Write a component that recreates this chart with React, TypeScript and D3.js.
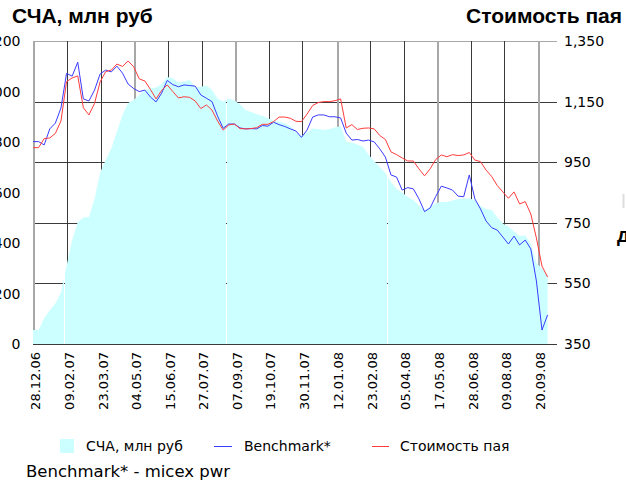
import React from "react";
import * as d3 from "d3";

const W = 626;
const H = 485;
// plot box: left edge = first labelled date, "right" = last labelled date
const BOX = { left: 33, right: 538, top: 41, bottom: 344, tickEnd: 557 };

const parseDate = d3.utcParse("%d.%m.%y");

const START = "28.12.06";
const tickLabels = [
  "28.12.06", "09.02.07", "23.03.07", "04.05.07", "15.06.07", "27.07.07",
  "07.09.07", "19.10.07", "30.11.07", "12.01.08", "23.02.08", "05.04.08",
  "17.05.08", "28.06.08", "09.08.08", "20.09.08",
];
// thin white seams inside the filled area
const areaSeams = ["05.02.07", "26.08.07", "15.03.08"];

// weekly values from 28.12.06
const scha = [
  55, 55, 102, 134, 160, 204, 309, 412, 483, 501,
  503, 574, 679, 729, 774, 842, 907, 954, 966, 986,
  1006, 1013, 1016, 1030, 1057, 1052, 1036, 1040, 1046, 1016,
  1019, 1024, 1006, 972, 960, 973, 964, 950, 927, 919,
  910, 904, 894, 885, 880, 874, 863, 840, 824, 838,
  853, 851, 848, 851, 857, 863, 801, 798, 790, 781,
  750, 725, 701, 677, 642, 614, 600, 582, 570, 549,
  531, 543, 557, 562, 562, 568, 574, 576, 576, 570,
  547, 535, 531, 501, 477, 465, 446, 428, 430, 396,
  321, 299, 273,
];
const benchmark = [
  1018, 1018, 1007, 1060, 1079, 1129, 1243, 1234, 1280, 1159,
  1152, 1188, 1241, 1254, 1248, 1267, 1244, 1208, 1193, 1183,
  1188, 1165, 1149, 1178, 1220, 1206, 1199, 1205, 1203, 1201,
  1172, 1161, 1150, 1102, 1062, 1076, 1076, 1063, 1060, 1061,
  1060, 1071, 1069, 1082, 1074, 1068, 1060, 1053, 1032, 1056,
  1099, 1106, 1106, 1100, 1100, 1096, 1046, 1023, 1025, 1020,
  1023, 1017, 994, 967, 908, 901, 858, 866, 862, 829,
  787, 799, 837, 871, 865, 858, 838, 836, 908, 829,
  796, 756, 734, 726, 703, 680, 706, 677, 693, 664,
  558, 396, 446,
];
const unitPrice = [
  998, 998, 1028, 1030, 1045, 1086, 1216, 1228, 1235, 1130,
  1106, 1144, 1215, 1249, 1254, 1274, 1266, 1284, 1265, 1225,
  1218, 1190, 1159, 1187, 1205, 1183, 1162, 1166, 1164, 1152,
  1127, 1139, 1122, 1086, 1056, 1073, 1076, 1061, 1060, 1061,
  1064, 1075, 1075, 1084, 1099, 1099, 1095, 1085, 1084, 1109,
  1137, 1147, 1150, 1150, 1153, 1159, 1063, 1074, 1058, 1062,
  1063, 1060, 1038, 1025, 984, 975, 964, 954, 954, 928,
  905, 928, 959, 974, 968, 975, 972, 974, 982, 957,
  952, 924, 903, 873, 852, 831, 852, 812, 820, 779,
  700, 607, 571,
];

const leftTicks = [0, 200, 400, 600, 800, 1000, 1200];
const rightTicks = [350, 550, 750, 950, 1150, 1350];

const AREA_COLOR = "#ccffff";
const BLUE = "#3b3bff";
const RED = "#ff3b3b";
const GRID = "#3a3a3a";
const GRID_LIGHT = "#a8a8a8";
const SANS = "'DejaVu Sans', Verdana, sans-serif";
const BOLD = "'Liberation Sans', Arial, sans-serif";

const App = () => {
  const start = parseDate(START);
  const dates = d3.utcDay.range(start, d3.utcDay.offset(start, scha.length * 7), 7);

  const x = d3
    .scaleUtc()
    .domain([start, parseDate(tickLabels[tickLabels.length - 1])])
    .range([BOX.left, BOX.right]);
  const yLeft = d3.scaleLinear().domain([0, 1200]).range([BOX.bottom, BOX.top]);
  const yRight = d3.scaleLinear().domain([350, 1350]).range([BOX.bottom, BOX.top]);
  const fmt = d3.format(",");
  const px = (v) => Math.round(v) + 0.5;

  const areaPath = d3
    .area()
    .x((d, i) => x(dates[i]))
    .y0(BOX.bottom)
    .y1((d) => yLeft(d))(scha);

  const line = d3
    .line()
    .x((d, i) => x(dates[i]))
    .y((d) => yRight(d));

  const plotEnd = x(dates[dates.length - 1]);

  return (
    <svg
      width={W}
      height={H}
      style={{ position: "absolute", left: 0, top: 0, background: "#fff" }}
    >
      <defs>
        <mask id="seams">
          <rect x={0} y={0} width={W} height={H} fill="white" />
          {areaSeams.map((d) => (
            <line
              key={d}
              x1={px(x(parseDate(d)))}
              x2={px(x(parseDate(d)))}
              y1={0}
              y2={H}
              stroke="black"
              strokeWidth={1}
            />
          ))}
        </mask>
      </defs>

      {/* titles */}
      <text x={12} y={23} fontFamily={BOLD} fontWeight="bold" fontSize={21} fill="#000">
        СЧА, млн руб
      </text>
      <text x={466} y={23} fontFamily={BOLD} fontWeight="bold" fontSize={21} fill="#000">
        Стоимость пая
      </text>

      {/* horizontal grid (right axis) */}
      {rightTicks.map((t) => (
        <line
          key={"h" + t}
          x1={BOX.left}
          x2={BOX.tickEnd}
          y1={px(yRight(t))}
          y2={px(yRight(t))}
          stroke={t === 1350 ? GRID_LIGHT : GRID}
          strokeWidth={1}
          shapeRendering="crispEdges"
        />
      ))}

      {/* vertical grid */}
      {tickLabels.map((t, i) => (
        <line
          key={"v" + t}
          x1={px(x(parseDate(t)))}
          x2={px(x(parseDate(t)))}
          y1={BOX.top}
          y2={BOX.bottom}
          stroke={i % 3 === 0 ? GRID_LIGHT : GRID}
          strokeWidth={i % 3 === 0 ? 2 : 1}
          shapeRendering="crispEdges"
        />
      ))}

      {/* NAV area */}
      <path d={areaPath} fill={AREA_COLOR} mask="url(#seams)" />

      {/* lines */}
      <path d={line(benchmark)} fill="none" stroke={BLUE} strokeWidth={1} />
      <path d={line(unitPrice)} fill="none" stroke={RED} strokeWidth={1} />

      {/* left axis labels */}
      {leftTicks.map((t) => (
        <text
          key={"l" + t}
          x={20.5}
          y={yLeft(t)}
          dy="0.36em"
          textAnchor="end"
          fontFamily={SANS}
          fontSize={14}
          fill="#000"
        >
          {fmt(t)}
        </text>
      ))}

      {/* right axis labels */}
      {rightTicks.map((t) => (
        <text
          key={"r" + t}
          x={564}
          y={yRight(t)}
          dy="0.36em"
          fontFamily={SANS}
          fontSize={14}
          fill="#000"
        >
          {fmt(t)}
        </text>
      ))}

      {/* x labels */}
      {tickLabels.map((t) => {
        const cx = x(parseDate(t)) + 2;
        return (
          <text
            key={"x" + t}
            transform={`translate(${cx},352) rotate(-90)`}
            dy="0.36em"
            textAnchor="end"
            fontFamily={SANS}
            fontSize={13}
            fill="#000"
          >
            {t}
          </text>
        );
      })}

      {/* legend */}
      <rect x={60} y={439} width={14} height={14} fill={AREA_COLOR} />
      <text x={86} y={451} fontFamily={SANS} fontSize={14} fill="#000">
        СЧА, млн руб
      </text>
      <line x1={214} x2={232} y1={446.5} y2={446.5} stroke={BLUE} strokeWidth={1} />
      <text x={244} y={451} fontFamily={SANS} fontSize={14} fill="#000">
        Benchmark*
      </text>
      <line x1={372} x2={389} y1={446.5} y2={446.5} stroke={RED} strokeWidth={1} />
      <text x={400} y={451} fontFamily={SANS} fontSize={14} fill="#000">
        Стоимость пая
      </text>

      <text x={26} y={477} fontFamily={SANS} fontSize={16.5} fill="#000">
        Benchmark* - micex pwr
      </text>

      {/* fragments of neighbouring elements cut by the crop */}
      <text x={617} y={242} fontFamily={BOLD} fontWeight="bold" fontSize={20} fill="#000">
        д
      </text>
      <line x1={623.5} x2={623.5} y1={194} y2={208} stroke="#dddddd" strokeWidth={2} />
    </svg>
  );
};

export default App;
